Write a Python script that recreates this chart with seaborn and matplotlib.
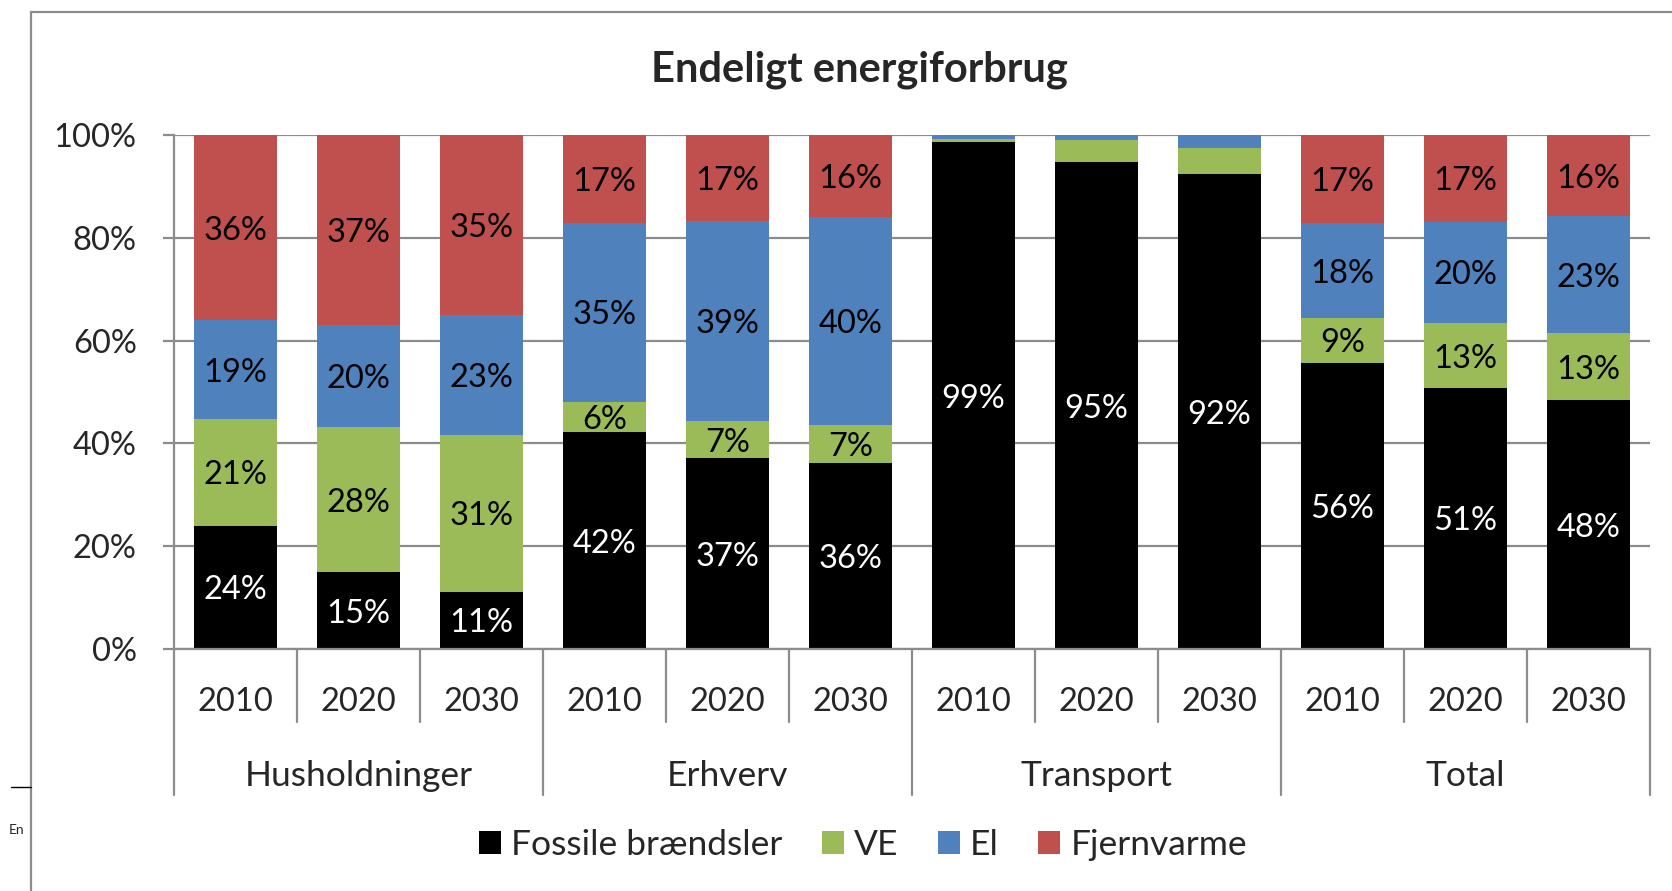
import matplotlib
matplotlib.use("Agg")
import matplotlib.pyplot as plt
import seaborn as sns
import pandas as pd
import numpy as np
from matplotlib.patches import Patch, Rectangle
from matplotlib.lines import Line2D

# ---------------- data ----------------
groups = ["Husholdninger", "Erhverv", "Transport", "Total"]
years = ["2010", "2020", "2030"]
series_names = ["Fossile brændsler", "VE", "El", "Fjernvarme"]
fossil = [24.0, 14.9, 11.1, 42.2, 37.1, 36.2, 98.6, 94.7, 92.4, 55.7, 50.8, 48.4]
ve = [20.7, 28.2, 30.6, 5.9, 7.2, 7.4, 0.6, 4.4, 5.1, 8.7, 12.6, 13.1]
el = [19.3, 19.9, 23.3, 34.8, 39.0, 40.4, 0.8, 0.9, 2.5, 18.4, 19.7, 22.7]
fjern = [36.0, 37.0, 35.0, 17.1, 16.7, 16.0, 0.0, 0.0, 0.0, 17.2, 16.9, 15.8]
colors = ["#000000", "#9BBB59", "#4F81BD", "#C0504D"]
label_colors = ["white", "black", "black", "black"]
yticks = [0, 20, 40, 60, 80, 100]
title = "Endeligt energiforbrug"

# ---------------- setup ----------------
sns.set_theme(style="white")
plt.rcParams["font.family"] = ["Lato", "DejaVu Sans"]

NUM_FS = 23.5
WORD_FS = 25.5

W, H = 1672, 891
fig = plt.figure(figsize=(W / 100, H / 100), dpi=100)
ax_l, ax_r, ax_t, ax_b = 174, 1650, 135, 649
ax = fig.add_axes([ax_l / W, 1 - ax_b / H, (ax_r - ax_l) / W, (ax_b - ax_t) / H])

bars = [f"{g} {y}" for g in groups for y in years]
df = pd.DataFrame({"bar": bars, "Fossile": fossil, "VE": ve, "El": el, "Fjernvarme": fjern})
vals = np.array([fossil, ve, el, fjern])
cum = np.cumsum(vals, axis=0)

for k in [3, 2, 1, 0]:
    d = df.assign(top=cum[k])
    sns.barplot(data=d, x="bar", y="top", order=bars, color=colors[k],
                saturation=1, width=0.667, errorbar=None, linewidth=0, ax=ax)

# segment labels
for i in range(len(bars)):
    for k in range(4):
        v = vals[k][i]
        if v >= 5.5:
            ax.text(i, cum[k][i] - v / 2, f"{v:.0f}%", ha="center", va="center_baseline",
                    color=label_colors[k], fontsize=NUM_FS)

grid_c = "#8c8c8c"
ax.set_ylim(0, 100)
ax.set_xlim(-0.5, len(bars) - 0.5)
ax.set_yticks(yticks)
ax.set_yticklabels([f"{t}%" for t in yticks], fontsize=NUM_FS)
ax.yaxis.grid(True, color=grid_c, linewidth=1.6)
ax.set_axisbelow(True)
for s in ["top", "right"]:
    ax.spines[s].set_visible(False)
for s in ["left", "bottom"]:
    ax.spines[s].set_color(grid_c)
    ax.spines[s].set_linewidth(1.6)
ax.tick_params(axis="y", left=True, length=7.9, width=1.6, color=grid_c, pad=19)
ax.tick_params(axis="x", bottom=False, labelbottom=False)
ax.set_xlabel("")
ax.set_ylabel("")

# category axis labels
span = ax_b - ax_t
def yf(px):
    return (ax_b - px) / span

xt = ax.get_xaxis_transform()
for i, b in enumerate(bars):
    ax.text(i, yf(699), years[i % 3], ha="center", va="center_baseline", fontsize=NUM_FS,
            transform=xt, clip_on=False)
for gi, g in enumerate(groups):
    ax.text(gi * 3 + 1, yf(773), g, ha="center", va="center_baseline", fontsize=WORD_FS,
            transform=xt, clip_on=False)
for j in range(len(bars) + 1):
    x = j - 0.5
    end = yf(795) if j % 3 == 0 else yf(722)
    ax.add_line(Line2D([x, x], [0, end], transform=xt, color=grid_c,
                       linewidth=1.6, clip_on=False))

# title
fig.text(859 / W, 1 - 66 / H, title, ha="center", va="center_baseline", fontsize=30,
         fontweight="bold")

# legend
handles = [Patch(facecolor=c, edgecolor="none", label=n) for c, n in zip(colors, series_names)]
fig.legend(handles=handles, loc="center", bbox_to_anchor=(863 / W, 1 - 845 / H), ncol=4,
           frameon=False, fontsize=WORD_FS, handlelength=0.62, handleheight=0.62,
           handletextpad=0.28, columnspacing=1.12)

# outer chart frame
fig.add_artist(Rectangle((31 / W, -0.1), 1.2, 1 - 12 / H + 0.1, transform=fig.transFigure,
                         fill=False, edgecolor=grid_c, linewidth=1.6))
# fragments of the surrounding document
fig.add_artist(Line2D([11 / W, 31 / W], [1 - 787 / H, 1 - 787 / H], transform=fig.transFigure,
                      color="black", linewidth=1))
fig.text(9 / W, 1 - 830 / H, "En", fontsize=10, va="center", ha="left")

fig.savefig("out.png", dpi=100, facecolor="white")
